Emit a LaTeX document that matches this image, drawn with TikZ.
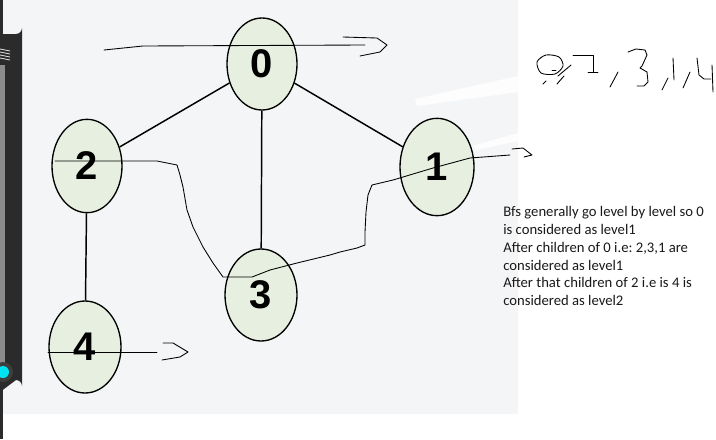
\documentclass[tikz,border=0pt]{standalone}
\usepackage{fontspec}
\setmainfont{Carlito}
\newfontfamily\digitfont{Liberation Sans}
\usetikzlibrary{shapes.geometric}
\definecolor{bggray}{HTML}{F3F5F7}
\definecolor{nodefill}{HTML}{E7F0E0}
\definecolor{panel}{HTML}{2B2B2B}
\definecolor{track}{HTML}{8C8C8C}
\definecolor{knob}{HTML}{00E1F2}
\definecolor{ring}{HTML}{3E3E3E}
\tikzset{
  vertex/.style={ellipse, draw=black, line width=1pt, fill=nodefill,
    minimum width=52.5pt, minimum height=69pt, inner sep=0pt,
    font=\digitfont\bfseries\fontsize{30}{30}\selectfont},
  edge/.style={line width=1.1pt, black},
  sketch/.style={line width=0.65pt, black, line join=round, line cap=round},
}
\frenchspacing
\begin{document}
\begin{tikzpicture}[x=0.75pt,y=-0.75pt]
\useasboundingbox (0,0) rectangle (716,439);
\fill[white] (0,0) rectangle (716,439);
\fill[bggray] (0,0) rectangle (518,414);
% white erased streaks
\fill[white, opacity=0.85] (415,99) -- (518,76) -- (518,92) -- (417,106) -- cycle;
\fill[white, opacity=0.85] (472,146) -- (518,133) -- (518,141) -- (476,150) -- cycle;
% left dark panel
\fill[panel] (0,0) rectangle (3,439);
\fill[panel] (0,34) -- (16,34) arc[start angle=90,end angle=0,radius=6] -- (22,386) arc[start angle=0,end angle=-90,radius=6] -- (0,392) -- cycle;
\foreach \yy in {49,52,55,58} \draw[white!75!gray, line width=0.6pt] (0,\yy) -- (10,\yy+2);
\draw[track, line width=3pt] (2.5,65) -- (2.5,366);
\fill[ring] (3,372) circle[radius=10];
\fill[knob] (3,372) circle[radius=6];
% nodes
\node[vertex] (n0) at (262,64) {0};
\node[vertex, minimum height=70pt] (n2) at (87,166) {2};
\node[vertex, minimum width=55.5pt, minimum height=73pt] (n1) at (437,167) {1};
\node[vertex, minimum width=54pt] (n3) at (261,295) {3};
\node[vertex, minimum width=54pt] (n4) at (85,347) {4};
% edges
\draw[edge] (n0) -- (n2);
\draw[edge] (n0) -- (n1);
\draw[edge] (n0) -- (n3);
\draw[edge] (n2) -- (n4);
% hand drawn arrows
\draw[sketch] (104,50) -- (143,46) -- (365,45);
\draw[sketch] (343,37) -- (377,38) -- (387,45) -- (380,52) -- (360,56);
\draw[sketch] (55,161) -- (157,161) -- (177,165) -- (180,175) -- (183,187) -- (187,210) -- (193,227) -- (203,247) -- (213,263) -- (223,277) -- (252,277) -- (270,270) -- (297,263) -- (330,255) -- (340,252) -- (357,248) -- (365,245) -- (365,232) -- (366,212) -- (368,195) -- (372,185) -- (393,180) -- (433,168) -- (470,158) -- (510,155);
\draw[sketch] (512,149) -- (523,148) -- (532,155) -- (524,157);
\draw[sketch] (48,352) -- (157,352);
\draw[sketch] (163,343) -- (173,343) -- (188,352) -- (180,357) -- (162,360);
% handwritten sequence
\draw[sketch] plot[smooth cycle] coordinates {(537,62) (546,55) (559,57) (563,66) (555,74) (541,73)};
\draw[sketch] (552,70) -- (556,70);
\draw[sketch] (558,76) -- (571,65);
\draw[sketch] (557,84) -- (564,76);
\draw[sketch] (543,84) -- (546,81);
\draw[sketch] (573,55) -- (593,55) -- (593,72);
\draw[sketch] (588,72) -- (598,72);
\draw[sketch] (610,87) -- (618,72);
\draw[sketch] (628,52) -- (636,49) -- (645,50) -- (647,55) -- (642,66) -- (640,68) -- (647,72) -- (648,82) -- (644,86) -- (637,86);
\draw[sketch] (662,90) -- (668,78);
\draw[sketch] (673,58) -- (674,80);
\draw[sketch] (683,88) -- (690,72);
\draw[sketch] (697,58) -- (699,75) -- (704,79) -- (711,79);
\draw[sketch] (712,65) -- (713,92);
% explanation text
\node[anchor=north west, align=left, inner sep=0pt, text=black!90,
  font=\fontsize{11}{13.4}\selectfont] (txt) at (503,206) {Bfs generally go level by level so 0\\is considered as level1\\After children of 0 i.e: 2,3,1 are\\considered as level1\\After that children of 2 i.e is 4 is\\considered as level2};
\end{tikzpicture}
\end{document}
